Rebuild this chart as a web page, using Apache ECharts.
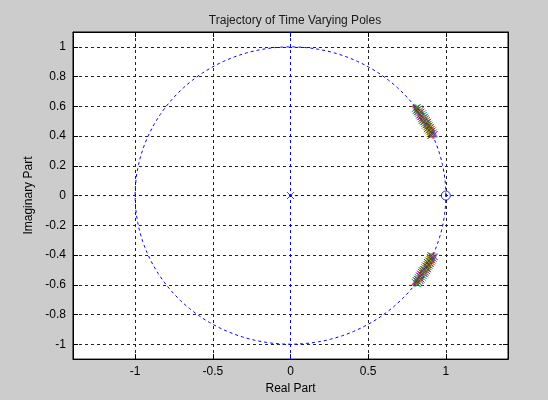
<!DOCTYPE html>
<html>
<head>
<meta charset="utf-8">
<script src="https://cdn.jsdelivr.net/npm/echarts@6/dist/echarts.min.js"></script>
<style>
  html, body { margin: 0; padding: 0; background: #cccccc; }
  #chart { width: 548px; height: 400px; }
</style>
</head>
<body>
<div id="chart"></div>
<script>
// Axis limits and tick positions
const xRange = [-1.4, 1.4];
const yRange = [-1.1, 1.1];
const xTicks = [-1, -0.5, 0, 0.5, 1];
const yTicks = [-1, -0.8, -0.6, -0.4, -0.2, 0, 0.2, 0.4, 0.6, 0.8, 1];

// Fixed pole at the origin and zero at z = 1
const originPoles = [[0, 0]];
const zeroLocations = [[1, 0]];

// Time varying pole pairs (upper half, then conjugates), one list per plotting colour
const polesBlue = [
  [0.809, 0.588], [0.832, 0.572], [0.831, 0.540], [0.866, 0.530], [0.862, 0.498],
  [0.884, 0.480], [0.878, 0.447], [0.903, 0.431], [0.923, 0.411],
  [0.809, 0.571], [0.843, 0.564], [0.846, 0.534], [0.846, 0.503], [0.882, 0.494],
  [0.881, 0.464], [0.901, 0.444], [0.899, 0.415],
  [0.809, -0.588], [0.832, -0.572], [0.831, -0.540], [0.866, -0.530], [0.862, -0.498],
  [0.884, -0.480], [0.878, -0.447], [0.903, -0.431], [0.923, -0.411],
  [0.809, -0.571], [0.843, -0.564], [0.846, -0.534], [0.846, -0.503], [0.882, -0.494],
  [0.881, -0.464], [0.901, -0.444], [0.899, -0.415]
];
const polesGreen = [
  [0.817, 0.594], [0.820, 0.563], [0.852, 0.553], [0.853, 0.522], [0.853, 0.493],
  [0.888, 0.482], [0.896, 0.457], [0.894, 0.427], [0.910, 0.405],
  [0.821, 0.580], [0.819, 0.548], [0.854, 0.539], [0.872, 0.519], [0.869, 0.487],
  [0.885, 0.466], [0.888, 0.438], [0.922, 0.425],
  [0.817, -0.594], [0.820, -0.563], [0.852, -0.553], [0.853, -0.522], [0.853, -0.493],
  [0.888, -0.482], [0.896, -0.457], [0.894, -0.427], [0.910, -0.405],
  [0.821, -0.580], [0.819, -0.548], [0.854, -0.539], [0.872, -0.519], [0.869, -0.487],
  [0.885, -0.466], [0.888, -0.438], [0.922, -0.425]
];
const polesRed = [
  [0.801, 0.582], [0.837, 0.575], [0.839, 0.545], [0.849, 0.520], [0.875, 0.505],
  [0.866, 0.470], [0.905, 0.461], [0.908, 0.433], [0.900, 0.401],
  [0.829, 0.586], [0.831, 0.556], [0.838, 0.529], [0.863, 0.514], [0.860, 0.482],
  [0.894, 0.471], [0.910, 0.449], [0.903, 0.417],
  [0.801, -0.582], [0.837, -0.575], [0.839, -0.545], [0.849, -0.520], [0.875, -0.505],
  [0.866, -0.470], [0.905, -0.461], [0.908, -0.433], [0.900, -0.401],
  [0.829, -0.586], [0.831, -0.556], [0.838, -0.529], [0.863, -0.514], [0.860, -0.482],
  [0.894, -0.471], [0.910, -0.449], [0.903, -0.417]
];
const polesCyan = [
  [0.821, 0.597], [0.812, 0.558], [0.843, 0.548], [0.862, 0.527], [0.866, 0.500],
  [0.870, 0.472], [0.887, 0.452], [0.917, 0.438], [0.914, 0.407],
  [0.805, 0.568], [0.835, 0.559], [0.859, 0.542], [0.855, 0.508], [0.873, 0.489],
  [0.898, 0.473], [0.884, 0.435], [0.917, 0.423],
  [0.821, -0.597], [0.812, -0.558], [0.843, -0.548], [0.862, -0.527], [0.866, -0.500],
  [0.870, -0.472], [0.887, -0.452], [0.917, -0.438], [0.914, -0.407],
  [0.805, -0.568], [0.835, -0.559], [0.859, -0.542], [0.855, -0.508], [0.873, -0.489],
  [0.898, -0.473], [0.884, -0.435], [0.917, -0.423]
];
const polesMagenta = [
  [0.805, 0.585], [0.824, 0.566], [0.827, 0.537], [0.858, 0.525], [0.879, 0.508],
  [0.879, 0.477], [0.900, 0.459], [0.899, 0.429], [0.928, 0.413],
  [0.817, 0.577], [0.827, 0.553], [0.833, 0.526], [0.868, 0.516], [0.886, 0.496],
  [0.876, 0.461], [0.897, 0.442], [0.913, 0.421],
  [0.805, -0.585], [0.824, -0.566], [0.827, -0.537], [0.858, -0.525], [0.879, -0.508],
  [0.879, -0.477], [0.900, -0.459], [0.899, -0.429], [0.928, -0.413],
  [0.817, -0.577], [0.827, -0.553], [0.833, -0.526], [0.868, -0.516], [0.886, -0.496],
  [0.876, -0.461], [0.897, -0.442], [0.913, -0.421]
];
const polesYellow = [
  [0.797, 0.579], [0.828, 0.569], [0.848, 0.551], [0.845, 0.517], [0.871, 0.503],
  [0.892, 0.484], [0.891, 0.454], [0.890, 0.425], [0.919, 0.409],
  [0.825, 0.583], [0.823, 0.550], [0.850, 0.537], [0.859, 0.511], [0.864, 0.484],
  [0.872, 0.459], [0.906, 0.446], [0.894, 0.413],
  [0.797, -0.579], [0.828, -0.569], [0.848, -0.551], [0.845, -0.517], [0.871, -0.503],
  [0.892, -0.484], [0.891, -0.454], [0.890, -0.425], [0.919, -0.409],
  [0.825, -0.583], [0.823, -0.550], [0.850, -0.537], [0.859, -0.511], [0.864, -0.484],
  [0.872, -0.459], [0.906, -0.446], [0.894, -0.413]
];
const polesDark = [
  [0.813, 0.591], [0.816, 0.561], [0.835, 0.543], [0.840, 0.514], [0.858, 0.495],
  [0.875, 0.475], [0.882, 0.450], [0.912, 0.436], [0.905, 0.403],
  [0.813, 0.574], [0.839, 0.562], [0.842, 0.531], [0.850, 0.506], [0.877, 0.491],
  [0.889, 0.468], [0.893, 0.440], [0.908, 0.419],
  [0.813, -0.591], [0.816, -0.561], [0.835, -0.543], [0.840, -0.514], [0.858, -0.495],
  [0.875, -0.475], [0.882, -0.450], [0.912, -0.436], [0.905, -0.403],
  [0.813, -0.574], [0.839, -0.562], [0.842, -0.531], [0.850, -0.506], [0.877, -0.491],
  [0.889, -0.468], [0.893, -0.440], [0.908, -0.419]
];

const poleSets = [polesBlue, polesGreen, polesRed, polesCyan, polesMagenta, polesYellow, polesDark];
const poleColors = ['#0000ff', '#008000', '#ff0000', '#00bfbf', '#bf00bf', '#bfbf00', '#404040'];

// Unit circle outline
const circleSteps = 240;
const unitCircle = [];
for (let i = 0; i <= circleSteps; i++) {
  const t = (2 * Math.PI * i) / circleSteps;
  unitCircle.push([Math.cos(t), Math.sin(t)]);
}

const crossSymbol = 'path://M0,0L10,10M10,0L0,10';
const font = 'Liberation Sans, Arial, sans-serif';
const blue = '#0000ff';
const gridDash = [3, 3];

const chart = echarts.init(document.getElementById('chart'), null, { renderer: 'canvas' });

const baseX = {
  type: 'value', min: xRange[0], max: xRange[1],
  axisLine: { show: true, onZero: false, lineStyle: { color: '#000', width: 1 } },
  axisTick: { show: true, inside: true, length: 5, customValues: xTicks, lineStyle: { color: '#000' } }
};
const baseY = {
  type: 'value', min: yRange[0], max: yRange[1],
  axisLine: { show: true, onZero: false, lineStyle: { color: '#000', width: 1 } },
  axisTick: { show: true, inside: true, length: 5, customValues: yTicks, lineStyle: { color: '#000' } }
};

const series = [
  {
    type: 'line', data: unitCircle, showSymbol: false, silent: true,
    lineStyle: { color: blue, width: 1, type: [3, 3] }, z: 3
  },
  // Real and imaginary axes, drawn in the same direction and dash as the grid so they cover it
  {
    type: 'line', data: [[xRange[0], 0], [xRange[1], 0]], showSymbol: false, silent: true,
    lineStyle: { color: blue, width: 1, type: gridDash }, z: 3
  },
  {
    type: 'line', data: [[0, yRange[1]], [0, yRange[0]]], showSymbol: false, silent: true,
    lineStyle: { color: blue, width: 1, type: gridDash }, z: 3
  },
  {
    type: 'scatter', data: originPoles, symbol: crossSymbol, symbolSize: 7, silent: true,
    itemStyle: { color: blue, borderColor: blue, borderWidth: 1 }, z: 4
  },
  {
    type: 'scatter', data: zeroLocations, symbol: 'circle', symbolSize: 9, silent: true,
    itemStyle: { color: 'rgba(0,0,0,0)', borderColor: blue, borderWidth: 1 }, z: 4
  }
];
poleSets.forEach((pts, i) => {
  series.push({
    type: 'scatter', data: pts, symbol: crossSymbol, symbolSize: 6, silent: true,
    itemStyle: { color: poleColors[i], borderColor: poleColors[i], borderWidth: 1 }, z: 5
  });
});

chart.setOption({
  animation: false,
  backgroundColor: '#cccccc',
  title: {
    text: 'Trajectory of Time Varying Poles',
    left: 290, top: 10, textAlign: 'center',
    textStyle: { fontFamily: font, fontSize: 12, fontWeight: 'normal', color: '#1a1a1a' }
  },
  grid: {
    left: 73, right: 40, top: 32, bottom: 40,
    show: true, backgroundColor: '#ffffff', borderColor: '#000', borderWidth: 1
  },
  xAxis: [
    Object.assign({}, baseX, {
      position: 'bottom',
      name: 'Real Part', nameLocation: 'middle', nameGap: 21,
      nameTextStyle: { fontFamily: font, fontSize: 12, color: '#000' },
      axisLabel: { show: true, margin: 7, customValues: xTicks, fontFamily: font, fontSize: 12, color: '#000' },
      splitLine: { show: true, lineStyle: { color: '#222', width: 1, type: gridDash } }
    }),
    Object.assign({}, baseX, {
      position: 'top',
      axisLabel: { show: false },
      splitLine: { show: false }
    })
  ],
  yAxis: [
    Object.assign({}, baseY, {
      position: 'left',
      name: 'Imaginary Part', nameLocation: 'middle', nameGap: 33,
      nameTextStyle: { fontFamily: font, fontSize: 12, color: '#000' },
      axisLabel: { show: true, margin: 7, customValues: yTicks, fontFamily: font, fontSize: 12, color: '#000' },
      splitLine: { show: true, lineStyle: { color: '#222', width: 1, type: gridDash } }
    }),
    Object.assign({}, baseY, {
      position: 'right',
      axisLabel: { show: false },
      splitLine: { show: false }
    })
  ],
  series: series
});
</script>
</body>
</html>
